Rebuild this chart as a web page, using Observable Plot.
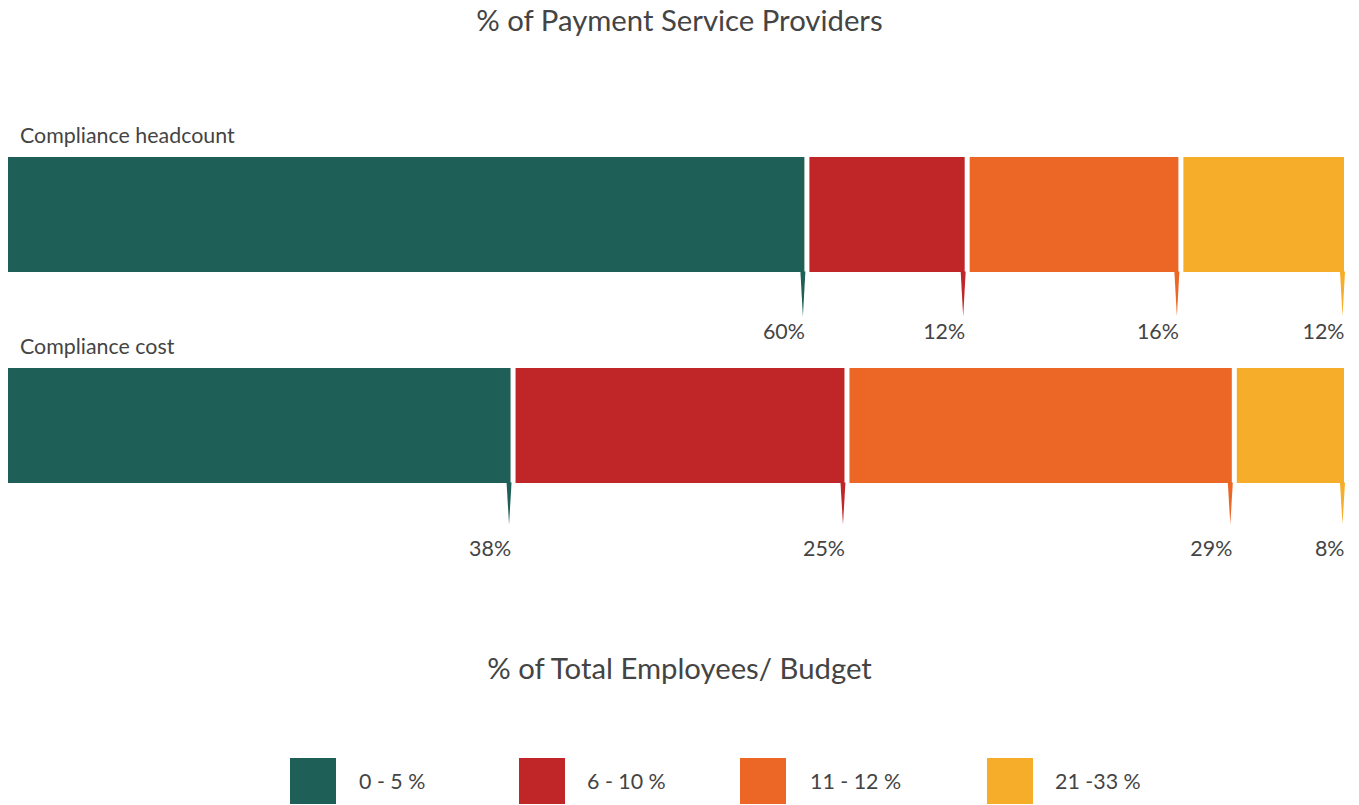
<!DOCTYPE html>
<html>
<head>
<meta charset="utf-8">
<script src="https://cdn.jsdelivr.net/npm/d3@7"></script>
<script src="https://cdn.jsdelivr.net/npm/@observablehq/plot@0.6"></script>
<style>
  html, body { margin: 0; padding: 0; background: #fff; }
  body { position: relative; width: 1359px; height: 805px; overflow: hidden; font-family: Lato, "Open Sans", sans-serif; color: #444; }
  .title { position: absolute; left: 0; width: 1359px; text-align: center; font-size: 29.3px; line-height: 40px; color: #444; }
  #chart { position: absolute; left: 0; top: 45px; }
  .sw { position: absolute; width: 46px; height: 46px; }
  .lab { position: absolute; font-size: 21.4px; line-height: 24px; color: #444; }
</style>
</head>
<body>
<div class="title" style="top:0px;">% of Payment Service Providers</div>
<div id="chart"></div>
<div class="title" style="top:648px;">% of Total Employees/ Budget</div>
<div id="legend"></div>
<script>
const categories = ["Compliance headcount", "Compliance cost"];
const ranges = ["0 - 5 %", "6 - 10 %", "11 - 12 %", "21 -33 %"];
const headcount = [60, 12, 16, 12.4];
const cost = [38, 25, 29, 8.4];
const colors = ["#1e6058", "#c02527", "#ec6725", "#f6ae2a"];

const series = [headcount, cost];
const data = [];
categories.forEach((cat, i) => {
  let cum = 0;
  series[i].forEach((v, j) => {
    data.push({cat, range: ranges[j], value: v, start: cum, end: cum + v});
    cum += v;
  });
});

const tail = {
  draw(context, l, r) {
    context.moveTo(-r, 0);
    context.lineTo(r, 0);
    context.lineTo(0, -l);
    context.closePath();
  }
};

const perCat = [
  {cat: categories[0], tailLen: 44, labelDy: 117.5},
  {cat: categories[1], tailLen: 41, labelDy: 123.5}
];

const marks = [
  Plot.barX(data, {x1: "start", x2: "end", y: "cat", fill: "range", insetLeft: 2.5, insetRight: 2.5}),
  Plot.text(categories, {x: () => 0, y: d => d, text: d => d, dx: 14, dy: -78.5, textAnchor: "start", fontSize: 21.4, fill: "#444"})
];
perCat.forEach(p => {
  const sub = data.filter(d => d.cat === p.cat);
  marks.push(Plot.vector(sub, {x: "end", y: "cat", dx: -4.5, dy: 56.5, length: p.tailLen + 1, r: 2.5, rotate: 180, anchor: "start", shape: tail, fill: "range", stroke: "none"}));
  marks.push(Plot.text(sub, {x: "end", y: "cat", text: d => Math.round(d.value) + "%", dx: -2.5, dy: p.labelDy, textAnchor: "end", fontSize: 21.4, fill: "#444"}));
});

const chart = Plot.plot({
  width: 1359,
  height: 560,
  marginLeft: 0, marginRight: 0, marginTop: 0, marginBottom: 0,
  style: {fontFamily: "Lato, sans-serif", background: "transparent"},
  x: {domain: [0, d3.max(data, d => d.end)], range: [5.5, 1346.5], axis: null},
  y: {domain: categories, range: [112, 438], paddingInner: 0.455, paddingOuter: 0, round: false, axis: null},
  color: {domain: ranges, range: colors},
  marks
});
document.getElementById("chart").appendChild(chart);

const swX = [290, 519, 740, 987];
const labX = [359, 587, 810, 1055];
const legend = document.getElementById("legend");
ranges.forEach((r, i) => {
  const s = document.createElement("div");
  s.className = "sw";
  s.style.left = swX[i] + "px";
  s.style.top = "758px";
  s.style.background = colors[i];
  legend.appendChild(s);
  const t = document.createElement("div");
  t.className = "lab";
  t.style.left = labX[i] + "px";
  t.style.top = "769px";
  t.textContent = r;
  legend.appendChild(t);
});
</script>
</body>
</html>
